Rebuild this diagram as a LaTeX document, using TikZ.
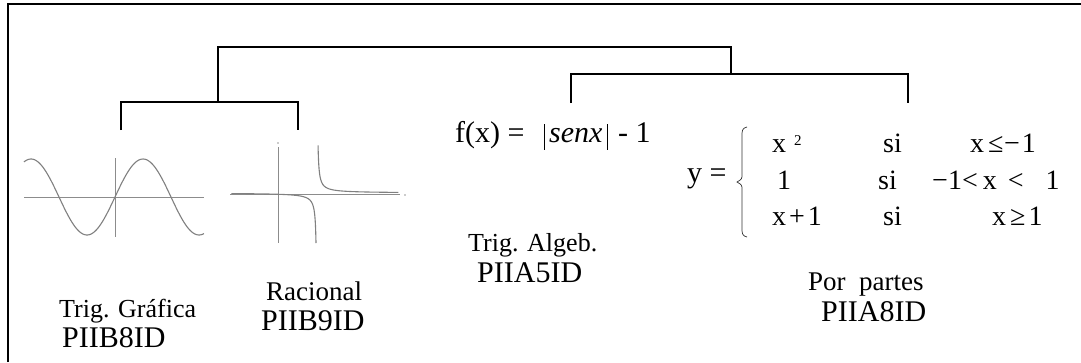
\documentclass[tikz,border=0pt]{standalone}
\usepackage{fontspec}
\setmainfont{Liberation Serif}
\begin{document}
\begin{tikzpicture}[x=1pt,y=-1pt,
  tree/.style={line width=1.8pt, black},
  axisline/.style={line width=1pt, black!45},
  curve/.style={line width=1.1pt, black!50},
  lbl/.style={anchor=base west, inner sep=0pt, font=\fontsize{26}{26}\selectfont},
  code/.style={anchor=base west, inner sep=0pt, font=\fontsize{30}{30}\selectfont},
  eq/.style={anchor=base west, inner sep=0pt, font=\fontsize{28}{28}\selectfont},
  big/.style={anchor=base west, inner sep=0pt, font=\fontsize{30}{30}\selectfont}]
\useasboundingbox (0,0) rectangle (1081,362);
\fill[white] (0,0) rectangle (1081,362);
\draw[line width=1.6pt] (8,362) -- (8,4) -- (1081,4);

% tree connectors
\coordinate (g1) at (121,130);
\coordinate (g2) at (298,130);
\coordinate (jL) at (218,102);
\coordinate (g3) at (571,103);
\coordinate (g4) at (908,103);
\coordinate (jR) at (731,74);
\coordinate (topR) at (731,47);
\draw[tree] (g1) |- (jL) -| (g2);
\draw[tree] (g3) |- (jR) -| (g4);
\draw[tree] (jL) |- (topR) -- (jR);

% sine graph
\draw[axisline] (24,197) -- (204,197);
\draw[axisline] (115,158) -- (115,237);
\draw[curve] plot[domain=24:204, samples=120, smooth] (\x, {197 - 38*sin((\x-115)*3.2143)});

% rational graph
\draw[axisline] (230,194) -- (400,194);
\draw[axisline] (278,147) -- (278,243);
\fill[black!40] (278,143) circle (0.9pt);
\fill[black!40] (405,195) circle (0.9pt);
\draw[curve] plot[domain=0:4.45, samples=60, smooth] ({317-exp(\x)}, {193+50*exp(-\x)});
\draw[curve] plot[domain=0.05:4.4, samples=60, smooth] ({317+exp(\x)}, {193-50*exp(-\x)});

% labels
\node[lbl] (tg) at (59,317) {Trig. Gráfica};
\node[code] (c8) at (62,347) {PIIB8ID};
\node[lbl, font=\fontsize{27}{27}\selectfont] (ra) at (266,300) {Racional};
\node[code] (c9) at (261,330) {PIIB9ID};
\node[lbl] (ta) at (468,251) {Trig. Algeb.};
\node[code] (a5) at (477,282) {PIIA5ID};
\node[lbl, font=\fontsize{27}{27}\selectfont] (pp) at (808,290) {Por\ \ partes};
\node[code] (a8) at (821,321) {PIIA8ID};

% f(x) = |senx| - 1
\node[big] (fx) at (455,142) {f(x) =};
\node[big, font=\fontsize{30}{30}\selectfont\itshape] (sx) at (549,142) {senx};
\node[big] (m1) at (618,142) {- 1};
\draw[line width=0.9pt] (544,124) -- (544,150);
\draw[line width=0.9pt] (607,124) -- (607,150);

% piecewise function
\node[big] (ye) at (687,182) {y =};
\draw[line width=0.7pt, black!80] (747,127) .. controls (742,128) and (742,131) .. (742,136) -- (742,174) .. controls (742,179) .. (737,182) .. controls (742,185) .. (742,190) -- (742,228) .. controls (742,233) and (742,236) .. (747,237);
\node[eq] (r1a) at (772,152) {x\hspace{8pt}\raisebox{7pt}{\fontsize{15}{15}\selectfont 2}};
\node[eq] (r1b) at (883,152) {si};
\node[eq] (r1c) at (970,152) {x\hspace{4pt}≤\hspace{0.5pt}−\hspace{2pt}1};
\node[eq] (r2a) at (777,189) {1};
\node[eq] (r2b) at (878,189) {si};
\node[eq] (r2c) at (932,189) {−1<\hspace{5pt}x\hspace{11pt}<\hspace{22pt}1};
\node[eq] (r3a) at (772,225) {x\hspace{3pt}+\hspace{3pt}1};
\node[eq] (r3b) at (883,225) {si};
\node[eq] (r3c) at (992,225) {x\hspace{4pt}≥\hspace{3pt}1};
\end{tikzpicture}
\end{document}
